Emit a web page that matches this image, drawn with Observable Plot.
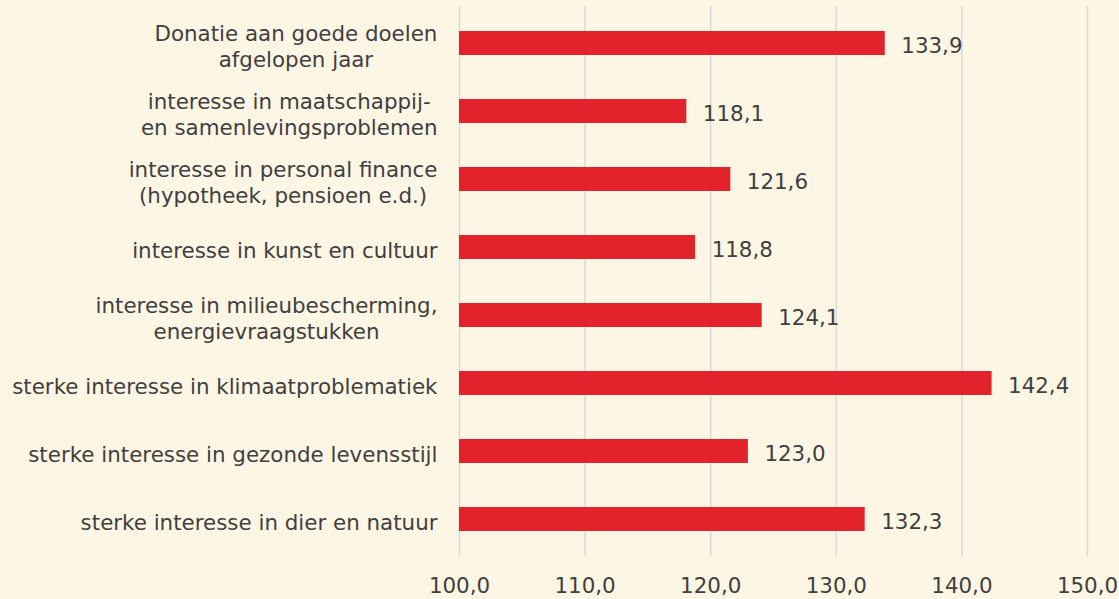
<!DOCTYPE html>
<html>
<head>
<meta charset="utf-8">
<script src="https://cdn.jsdelivr.net/npm/d3@7"></script>
<script src="https://cdn.jsdelivr.net/npm/@observablehq/plot@0.6"></script>
<style>
  html, body { margin: 0; padding: 0; background: #fef6e5; }
  #chart { width: 1119px; height: 599px; }
</style>
</head>
<body>
<div id="chart"></div>
<script>
const categories = [
  "Donatie aan goede doelen\nafgelopen jaar",
  "interesse in maatschappij-\nen samenlevingsproblemen",
  "interesse in personal finance\n(hypotheek, pensioen e.d.)",
  "interesse in kunst en cultuur",
  "interesse in milieubescherming,\nenergievraagstukken",
  "sterke interesse in klimaatproblematiek",
  "sterke interesse in gezonde levensstijl",
  "sterke interesse in dier en natuur"
];
const values = [133.9, 118.1, 121.6, 118.8, 124.1, 142.4, 123.0, 132.3];
const xTicks = [100, 110, 120, 130, 140, 150];
const baseline = 100;

const data = categories.map((c, i) => ({label: c, value: values[i]}));
const fmt = v => d3.format(".1f")(v).replace(".", ",");
const textColor = "#404040";
const fontFamily = "'DejaVu Sans', Verdana, sans-serif";
const fs = 21.4;

const chart = Plot.plot({
  width: 1119,
  height: 599,
  marginLeft: 459,
  marginRight: 32,
  marginTop: 6,
  marginBottom: 43,
  style: {background: "#fef6e5", fontFamily, fontSize: fs + "px", color: textColor},
  x: {domain: [100, 150], ticks: xTicks},
  y: {domain: categories, paddingInner: 0.65, paddingOuter: 0.325, axis: null},
  marks: [
    Plot.gridX(xTicks, {stroke: "#d9d9d9", strokeOpacity: 1, strokeWidth: 1.5}),
    Plot.barX(data, {x1: () => baseline, x2: "value", y: "label", fill: "#e3232c"}),
    Plot.text(data, {x: "value", y: "label", text: d => fmt(d.value), textAnchor: "start", dx: 16, dy: 2.5, fill: textColor, fontSize: fs}),
    Plot.text(data, {y: "label", text: "label", frameAnchor: "left", textAnchor: "end", dx: -22, dy: 2.2, fill: textColor, fontSize: fs, lineHeight: 1.21, className: "ylabels"}),
    Plot.axisX(xTicks, {tickSize: 0, tickPadding: 21, tickFormat: fmt, fontSize: fs, fill: textColor, label: null})
  ]
});
document.getElementById("chart").appendChild(chart);

// center lines of multi-line labels within their right-aligned block
chart.querySelectorAll("g.ylabels text").forEach(t => {
  if (t.querySelectorAll("tspan").length > 1) {
    const w = t.getBBox().width;
    t.setAttribute("text-anchor", "middle");
    t.querySelectorAll("tspan").forEach(s => s.setAttribute("x", -w / 2));
  }
});
</script>
</body>
</html>
